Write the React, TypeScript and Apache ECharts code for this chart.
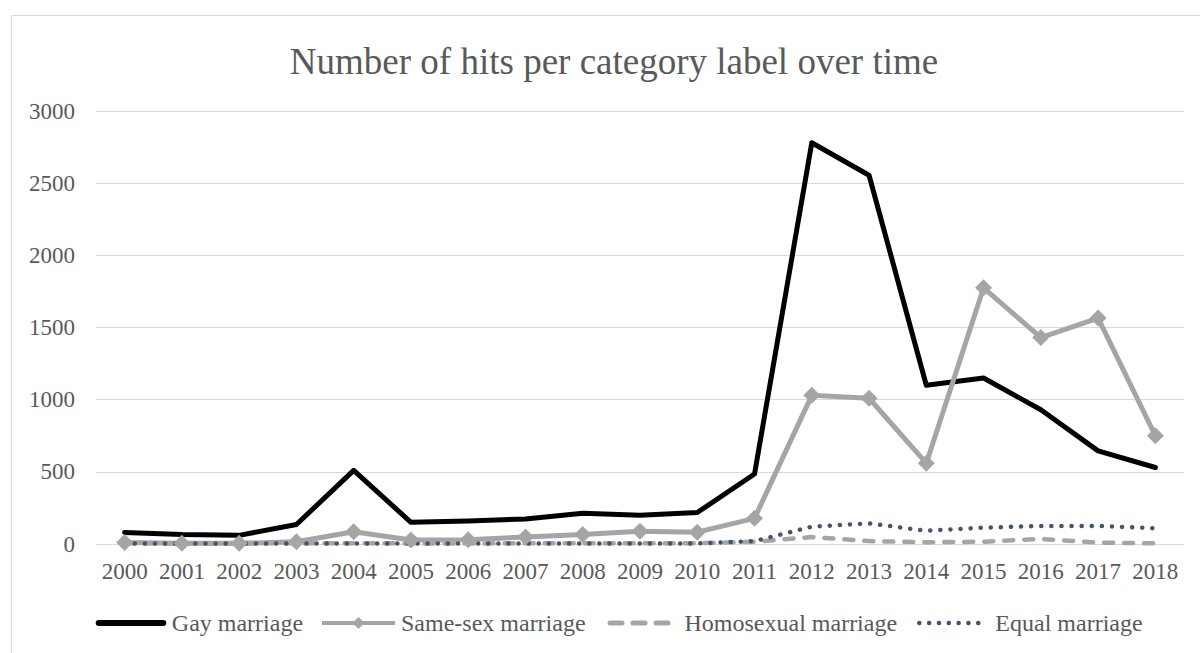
import React, { useEffect, useRef } from "react";
import * as echarts from "echarts";

const years = ["2000","2001","2002","2003","2004","2005","2006","2007","2008","2009","2010","2011","2012","2013","2014","2015","2016","2017","2018"];
const gayMarriage = [80, 65, 60, 135, 510, 150, 160, 173, 213, 200, 218, 485, 2780, 2555, 1100, 1150, 930, 645, 530];
const sameSexMarriage = [10, 5, 5, 15, 85, 28, 30, 48, 65, 88, 82, 178, 1030, 1010, 560, 1775, 1430, 1565, 750];
const homosexualMarriage = [5, 4, 4, 5, 6, 4, 4, 5, 5, 5, 5, 15, 48, 20, 12, 16, 35, 10, 5];
const equalMarriage = [3, 3, 3, 3, 4, 3, 3, 3, 3, 3, 4, 20, 120, 143, 92, 113, 125, 125, 109];

const FONT = "Liberation Serif";
const TXT = "#595959";
const LEG_TOP = 611;

function legendFor(name: string, left: number, itemWidth: number, padLeft: number, lineStyle: any, itemStyle: any) {
  return {
    left,
    top: LEG_TOP,
    itemWidth,
    itemHeight: 15,
    padding: 0,
    textStyle: { fontFamily: FONT, fontSize: 24, color: TXT, padding: [0, 0, 0, padLeft] },
    data: [{ name, lineStyle, itemStyle }],
  };
}

export default function App() {
  const ref = useRef<HTMLDivElement>(null);
  useEffect(() => {
    const chart = echarts.init(ref.current!, null, { renderer: "svg" });
    chart.setOption({
      animation: false,
      backgroundColor: "#ffffff",
      textStyle: { fontFamily: FONT },
      graphic: [
        {
          type: "rect",
          shape: { x: 11.5, y: 15.5, width: 1250, height: 700 },
          style: { fill: "none", stroke: "#D9D9D9", lineWidth: 1 },
          silent: true,
        },
      ],
      title: {
        text: "Number of hits per category label over time",
        left: 609,
        top: 38,
        textAlign: "center",
        textStyle: { fontFamily: FONT, fontSize: 37, fontWeight: "normal", color: TXT },
      },
      legend: [
        legendFor("Gay marriage", 95.7, 64.6, 3.5, { width: 6, cap: "round" }, { opacity: 0 }),
        legendFor("Same-sex marriage", 320, 73, 1, { width: 4, cap: "butt" }, {}),
        legendFor("Homosexual marriage", 607.5, 58, 11.5, { width: 5, type: [12, 11], cap: "round" }, { opacity: 0 }),
        legendFor("Equal marriage", 917, 59.1, 12, { width: 4.5, type: [0.1, 9.73], cap: "round" }, { opacity: 0 }),
      ],
      grid: { left: 96, right: 16, top: 111, bottom: 109 },
      xAxis: {
        type: "category",
        data: years,
        boundaryGap: true,
        axisLine: { lineStyle: { color: "#D9D9D9", width: 1 } },
        axisTick: { show: false },
        axisLabel: { fontFamily: FONT, fontSize: 23, color: TXT, margin: 16, interval: 0, hideOverlap: false },
      },
      yAxis: {
        type: "value",
        min: 0,
        max: 3000,
        interval: 500,
        axisLine: { show: false },
        axisTick: { show: false },
        splitLine: { lineStyle: { color: "#D9D9D9", width: 1 } },
        axisLabel: { fontFamily: FONT, fontSize: 23, color: TXT, margin: 21, formatter: (v: number) => String(v) },
      },
      series: [
        {
          name: "Gay marriage",
          type: "line",
          data: gayMarriage,
          symbol: "none",
          itemStyle: { color: "#000000" },
          lineStyle: { color: "#000000", width: 5, cap: "round", join: "round" },
        },
        {
          name: "Same-sex marriage",
          type: "line",
          data: sameSexMarriage,
          symbol: "diamond",
          symbolSize: 17,
          itemStyle: { color: "#A5A5A5" },
          lineStyle: { color: "#A5A5A5", width: 5, cap: "round", join: "round" },
        },
        {
          name: "Homosexual marriage",
          type: "line",
          data: homosexualMarriage,
          symbol: "none",
          itemStyle: { color: "#A5A5A5" },
          lineStyle: { color: "#A5A5A5", width: 4.5, type: [9, 11], cap: "round", join: "round" },
        },
        {
          name: "Equal marriage",
          type: "line",
          data: equalMarriage,
          symbol: "none",
          itemStyle: { color: "#44546A" },
          lineStyle: { color: "#44546A", width: 4.5, type: [0.1, 10], cap: "round", join: "round" },
        },
      ],
    });
    return () => chart.dispose();
  }, []);
  return (
    <div
      ref={ref}
      style={{ position: "fixed", left: 0, top: 0, width: 1200, height: 653, background: "#fff" }}
    />
  );
}
